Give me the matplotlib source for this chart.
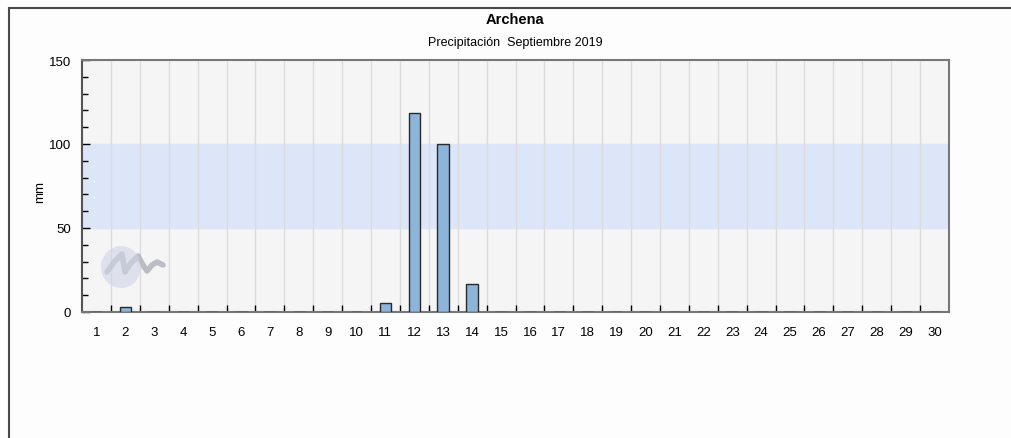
import matplotlib.pyplot as plt
from matplotlib.patches import Rectangle, Ellipse

# datos: precipitación diaria (mm), septiembre 2019
dias = list(range(1, 31))
lluvia = [0, 2.8, 0, 0, 0, 0, 0, 0, 0, 0, 5.4, 118.3, 100.0, 16.7, 0,
          0, 0, 0, 0, 0, 0, 0, 0, 0, 0, 0, 0, 0, 0, 0]
banda = (50, 100)
titulo = 'Archena'
subtitulo = 'Precipitación  Septiembre 2019'

plt.rcParams['font.family'] = ['Liberation Sans', 'DejaVu Sans']

fig = plt.figure(figsize=(10.11, 4.39), dpi=100, facecolor='#fcfdfc')
W, H = 1011, 439
ax = fig.add_axes([82 / W, 1 - 313 / H, (949 - 82) / W, (313 - 61) / H])

# marco exterior
fig.patches.append(Rectangle((9 / W, -0.1), 1.2, 1 - 9 / H + 0.1, transform=fig.transFigure,
                             fill=False, edgecolor='#4a4a4a', linewidth=1.5))

ax.set_facecolor('#f5f5f5')
ax.axhspan(banda[0], banda[1], color='#dde5f8', zorder=0)
for x in range(1, 30):
    ax.axvline(x + 0.5, color='#dcdcdc', linewidth=1, zorder=1)

ax.bar(dias, lluvia, width=0.4, color='#8db4d9', edgecolor='#2a2a2a', linewidth=1, zorder=3)

ax.set_xlim(0.5, 30.5)
ax.set_ylim(0, 150)
ax.set_xticks(dias)
ax.set_xticks([d + 0.5 for d in dias[:-1]], minor=True)
ax.tick_params(axis='x', which='major', length=0, labelsize=9.5, pad=10)
ax.tick_params(axis='x', which='minor', direction='in', length=5, width=1, color='black')
ax.set_yticks([0, 50, 100, 150])
ax.set_yticks(range(0, 151, 10), minor=True)
ax.tick_params(axis='y', which='major', direction='in', length=6, width=1, labelsize=9.5, pad=8)
ax.tick_params(axis='y', which='minor', direction='in', length=4, width=1)

for s in ax.spines.values():
    s.set_color('#777777')
    s.set_linewidth(1.5)
ax.spines['left'].set_color('#555555')

ax.set_ylabel('mm', fontsize=9.5)
ax.yaxis.set_label_coords((46 - 82) / (949 - 82), 0.48)

fig.text(515 / W, 1 - 20 / H, titulo, ha='center', va='center', fontsize=10.5, fontweight='bold')
fig.text(515 / W, 1 - 43 / H, subtitulo, ha='center', va='center', fontsize=9)

# logo de fondo
fig.patches.append(Ellipse((121 / W, 1 - 268 / H), 40 / W, 42 / H, transform=fig.transFigure,
                           facecolor='#d0d5e6', edgecolor='none', alpha=0.6, zorder=2))
lx = [107, 115, 122, 125, 131, 138, 143, 147, 152, 157, 163]
ly = [273, 262, 255, 273, 264, 257, 266, 272, 266, 263, 266]
ax.plot([v / W for v in lx], [1 - v / H for v in ly], transform=fig.transFigure,
        color='#a4a6b0', linewidth=4, alpha=0.7, solid_capstyle='round',
        solid_joinstyle='round', zorder=2)

fig.savefig('out.png', dpi=100, facecolor=fig.get_facecolor())
